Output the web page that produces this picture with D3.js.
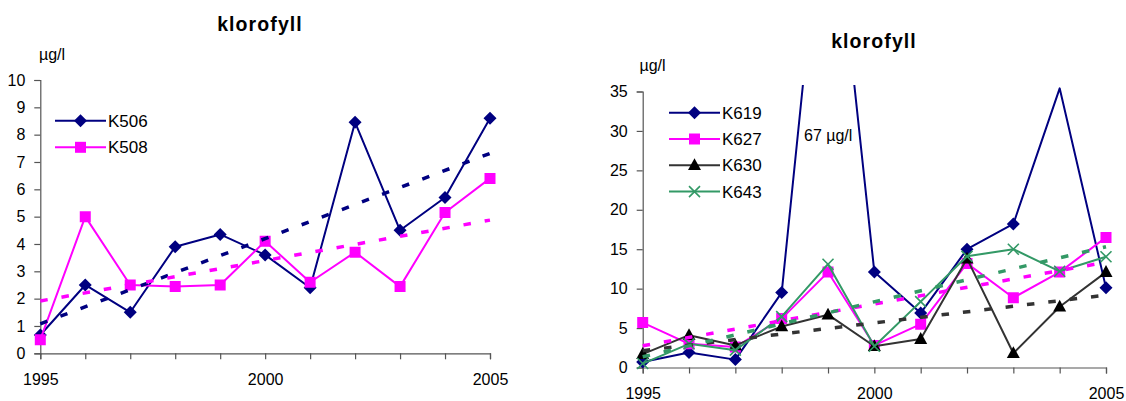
<!DOCTYPE html>
<html>
<head>
<meta charset="utf-8">
<script src="https://cdn.jsdelivr.net/npm/d3@7"></script>
<style>
  html, body { margin: 0; padding: 0; background: #fff; }
  svg { display: block; font-family: "Liberation Sans", Arial, sans-serif; }
</style>
</head>
<body>
<svg id="chart" width="1126" height="401"></svg>
<script>
// Annual chlorophyll (µg/l) per station, 1995–2005
const years = [1995, 1996, 1997, 1998, 1999, 2000, 2001, 2002, 2003, 2004, 2005];
const yearLabels = [1995, 2000, 2005];

// Left panel stations
const k506 = [0.67, 2.5, 1.5, 3.9, 4.35, 3.6, 2.4, 8.45, 4.5, 5.7, 8.6];
const k508 = [0.5, 5.0, 2.5, 2.44, 2.5, 4.1, 2.6, 3.7, 2.44, 5.15, 6.4];

// Right panel stations (K619 1999 = 67 µg/l, off the scale)
const k619 = [0.7, 1.9, 1.0, 9.5, 67, 12.1, 6.9, 15.0, 18.2, 35.4, 10.1];
const k627 = [5.7, 3.0, 2.6, 6.2, 12.1, 2.8, 5.5, 13.2, 8.85, 12.1, 16.5];
const k630 = [1.7, 4.1, 2.8, 5.2, 6.7, 2.7, 3.6, 13.8, 1.8, 7.7, 12.1];
const k643 = [0.5, 3.0, 2.2, 6.45, 13.1, 2.7, 8.35, 14.1, 15.0, 12.2, 14.05];

const leftTicks = [0, 1, 2, 3, 4, 5, 6, 7, 8, 9, 10];
const rightTicks = [0, 5, 10, 15, 20, 25, 30, 35];

const titleText = "klorofyll";
const unitText = "µg/l";
const peakNote = "67 µg/l";

const svg = d3.select("#chart");

// Marker shapes centred on 0,0
const markerPath = {
  diamond: "M0,-6.5L6.5,0L0,6.5L-6.5,0Z",
  square: "M-5.5,-5.5H5.5V5.5H-5.5Z",
  triangle: "M0,-7L6.5,4.8H-6.5Z",
  cross: "M-5.5,-5.5L5.5,5.5M5.5,-5.5L-5.5,5.5"
};

function drawMarker(g, type, color, fill) {
  const p = g.append("path").attr("d", markerPath[type]);
  if (type === "cross") {
    p.attr("fill", "none").attr("stroke", color).attr("stroke-width", 1.6);
  } else {
    p.attr("fill", fill || color).attr("stroke", fill ? color : "none").attr("stroke-width", fill ? 0.8 : 0);
  }
  return p;
}

// Least-squares line through (index, value)
function linearFit(values) {
  const n = values.length;
  const xs = values.map((_, i) => i);
  const mx = d3.mean(xs), my = d3.mean(values);
  let sxy = 0, sxx = 0;
  xs.forEach((x, i) => { sxy += (x - mx) * (values[i] - my); sxx += (x - mx) * (x - mx); });
  const slope = sxy / sxx;
  const icpt = my - slope * mx;
  return [icpt, icpt + slope * (n - 1)];
}

function drawPanel(cfg, id) {
  const x = d3.scaleLinear().domain([years[0], years[years.length - 1]]).range([cfg.x0, cfg.x1]);
  const y = d3.scaleLinear().domain([0, cfg.yMax]).range([cfg.yBottom, cfg.yTop]);
  const g = svg.append("g");

  // Title and unit
  g.append("text").attr("x", cfg.titleX).attr("y", cfg.titleY)
    .attr("text-anchor", "middle").attr("font-size", 19.5).attr("font-weight", "bold")
    .attr("letter-spacing", 1.1).text(titleText);
  g.append("text").attr("x", cfg.unitX).attr("y", cfg.unitY)
    .attr("font-size", 16).text(unitText);

  // Axes
  const yAxis = d3.axisLeft(y).tickValues(cfg.ticks).tickSize(6).tickPadding(9).tickFormat(d3.format("d"));
  const xAxis = d3.axisBottom(x).tickValues(years).tickSize(6).tickPadding(0)
    .tickFormat(d => yearLabels.includes(d) ? d : "");
  const ga = g.append("g").attr("transform", `translate(${cfg.x0},0)`).call(yAxis);
  const gx = g.append("g").attr("transform", `translate(0,${cfg.yBottom})`).call(xAxis);
  [ga, gx].forEach(a => {
    a.select(".domain").attr("stroke", "#555").attr("stroke-width", 1.2);
    a.selectAll(".tick line").attr("stroke", "#555").attr("stroke-width", 1.2);
    a.selectAll("text").attr("font-size", 16).attr("fill", "#000")
      .attr("font-family", "Liberation Sans, Arial, sans-serif");
  });
  gx.selectAll("text").attr("dy", null).attr("y", 31.5);

  // Clip region for the plotting area
  const clipId = "clip-" + id;
  svg.append("clipPath").attr("id", clipId).append("rect")
    .attr("x", cfg.x0 - 10).attr("y", cfg.clipTop)
    .attr("width", cfg.x1 - cfg.x0 + 20).attr("height", cfg.yBottom - cfg.clipTop + 20);
  const plot = g.append("g").attr("clip-path", `url(#${clipId})`);

  const line = d3.line().x((d, i) => x(years[i])).y(d => y(d));

  cfg.series.forEach(s => {
    plot.append("path").datum(s.values).attr("d", line)
      .attr("fill", "none").attr("stroke", s.lineColor || s.color).attr("stroke-width", 2)
      .attr("stroke-linejoin", "round");
    s.values.forEach((v, i) => {
      if (v > cfg.yMax) return;
      const m = plot.append("g").attr("transform", `translate(${x(years[i])},${y(v)})`);
      drawMarker(m, s.marker, s.color, s.fill);
    });
  });

  // Linear trend lines
  cfg.series.filter(s => s.trend).forEach(s => {
    const [a, b] = linearFit(s.values);
    plot.append("line")
      .attr("x1", x(years[0])).attr("y1", y(a))
      .attr("x2", x(years[years.length - 1])).attr("y2", y(b))
      .attr("stroke", s.trend).attr("stroke-width", 3.5)
      .attr("stroke-dasharray", "7.5,14");
  });

  // Legend
  cfg.series.forEach((s, i) => {
    const ly = cfg.legendY + i * cfg.legendDy;
    const lg = g.append("g");
    lg.append("line").attr("x1", cfg.legendX).attr("x2", cfg.legendX + 51)
      .attr("y1", ly).attr("y2", ly).attr("stroke", s.lineColor || s.color).attr("stroke-width", 2);
    const m = lg.append("g").attr("transform", `translate(${cfg.legendX + 25.5},${ly})`);
    drawMarker(m, s.marker, s.color, s.fill);
    lg.append("text").attr("x", cfg.legendX + 53).attr("y", ly).attr("dy", "0.36em")
      .attr("font-size", 17).text(s.name);
  });

  return { x, y, g };
}

drawPanel({
  x0: 40.3, x1: 490, yTop: 80, yBottom: 353.3, yMax: 10, ticks: leftTicks,
  clipTop: 70,
  titleX: 260, titleY: 30.5, unitX: 39, unitY: 59.5,
  legendX: 55, legendY: 120.7, legendDy: 26.6,
  series: [
    { name: "K506", values: k506, color: "#000080", marker: "diamond", trend: "#000080" },
    { name: "K508", values: k508, color: "#FF00FF", marker: "square", trend: "#FF00FF" }
  ]
}, "left");

const right = drawPanel({
  x0: 642.7, x1: 1106, yTop: 91.5, yBottom: 367.5, yMax: 35, ticks: rightTicks,
  clipTop: 85,
  titleX: 874, titleY: 48.3, unitX: 639.5, unitY: 71,
  legendX: 669, legendY: 112.7, legendDy: 26.3,
  series: [
    { name: "K619", values: k619, color: "#000080", marker: "diamond" },
    { name: "K627", values: k627, color: "#FF00FF", marker: "square", trend: "#FF00FF" },
    { name: "K630", values: k630, color: "#000000", lineColor: "#333333", marker: "triangle", trend: "#333333" },
    { name: "K643", values: k643, color: "#339966", marker: "cross", trend: "#339966" }
  ]
}, "right");

// Note for the off-scale 1999 value of K619
right.g.append("text").attr("x", 804).attr("y", 140.5).attr("font-size", 16).text(peakNote);
</script>
</body>
</html>
